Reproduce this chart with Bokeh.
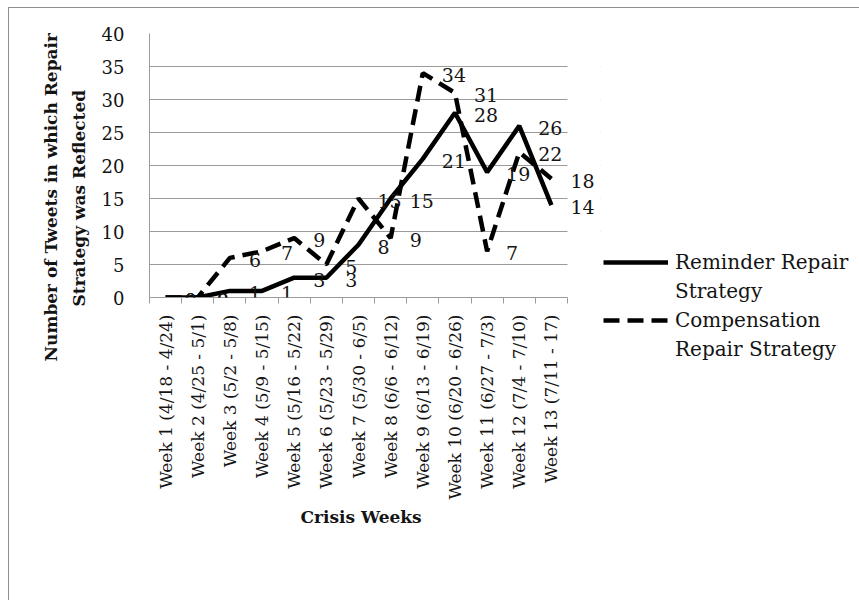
import math
from bokeh.plotting import figure
from bokeh.models import (ColumnDataSource, LabelSet, Legend, LegendItem,
                          FixedTicker, BoxAnnotation, Title)
from bokeh.embed import file_html
from bokeh.resources import INLINE
from bokeh.core.properties import value

weeks = ["Week 1 (4/18 - 4/24)", "Week 2 (4/25 - 5/1)", "Week 3 (5/2 - 5/8)",
         "Week 4 (5/9 - 5/15)", "Week 5 (5/16 - 5/22)", "Week 6 (5/23 - 5/29)",
         "Week 7 (5/30 - 6/5)", "Week 8 (6/6 - 6/12)", "Week 9 (6/13 - 6/19)",
         "Week 10 (6/20 - 6/26)", "Week 11 (6/27 - 7/3)", "Week 12 (7/4 - 7/10)",
         "Week 13 (7/11 - 17)"]
reminder = [0, 0, 1, 1, 3, 3, 8, 15, 21, 28, 19, 26, 14]
compensation = [0, 0, 6, 7, 9, 5, 15, 9, 34, 31, 7, 22, 18]
y_ticks = [0, 5, 10, 15, 20, 25, 30, 35, 40]
series_name_lines = [["Reminder Repair", "Strategy"], ["Compensation", "Repair Strategy"]]
y_title_lines = ["Number of Tweets in which Repair", "Strategy was Reflected"]
x_title = "Crisis Weeks"

FONT = "DejaVu Serif"
TXT = "#141414"
GRID = "#9b9b9b"
H = 592

n = len(weeks)
xs = list(range(1, n + 1))
src = ColumnDataSource(dict(x=xs, rem=reminder, comp=compensation,
                            rem_t=[str(v) for v in reminder],
                            comp_t=[str(v) for v in compensation]))

plot_w = 418
frame_w = 451
x_end = 0.5 + n * frame_w / plot_w
p = figure(frame_width=frame_w, frame_height=264,
           min_border_left=140, min_border_right=0,
           min_border_top=25, min_border_bottom=H - 25 - 264,
           x_range=(0.5, x_end), y_range=(0, 40),
           output_backend="svg", toolbar_location=None,
           margin=(7, 0, 0, 8),
           styles={"border-left": "1px solid #8e8e8e",
                   "border-top": "1px solid #8e8e8e"})
p.outline_line_color = None

xa = p.xaxis[0]
xa.bounds = (0.5, n + 0.5)
xa.ticker = FixedTicker(ticks=xs, minor_ticks=[i + 0.5 for i in range(0, n + 1)])
xa.major_label_overrides = {x: w for x, w in zip(xs, weeks)}
xa.major_label_orientation = math.pi / 2
xa.major_tick_line_color = None
xa.minor_tick_line_color = GRID
xa.minor_tick_out = 6
xa.minor_tick_in = 0
xa.axis_line_color = GRID
xa.major_label_text_font = FONT
xa.major_label_text_font_size = "17px"
xa.major_label_text_color = TXT
xa.major_label_standoff = 11

ya = p.yaxis[0]
ya.ticker = FixedTicker(ticks=y_ticks)
ya.major_tick_line_color = None
ya.minor_tick_line_color = None
ya.axis_line_color = GRID
ya.major_label_text_font = FONT
ya.major_label_text_font_size = "18px"
ya.major_label_text_color = TXT
ya.major_label_standoff = 19

p.xgrid.grid_line_color = None
p.ygrid.grid_line_color = GRID
p.ygrid.grid_line_width = 1

# white mask: plot area ends at the last category boundary
p.add_layout(BoxAnnotation(left=n + 0.5, fill_color="white", fill_alpha=1,
                           line_color=None, level="underlay"))

r1 = p.line("x", "rem", source=src, line_color="black", line_width=4.5)
r2 = p.line("x", "comp", source=src, line_color="black", line_width=4.5,
            line_dash="16 8")
# glyph-less legend rows for the second line of each series name
blank1 = p.line(x=[], y=[], line_alpha=0)
blank2 = p.line(x=[], y=[], line_alpha=0)

for col in ["rem", "comp"]:
    p.add_layout(LabelSet(x="x", y=col, text=col + "_t", source=src, x_offset=19,
                          y_offset=-2, text_font=value(FONT), text_font_size="19px",
                          text_color=TXT, text_align="left", text_baseline="middle"))

# axis titles
tkw = dict(text_font=FONT, text_font_style="bold", text_font_size="17px",
           text_color=TXT, align="left")
p.add_layout(Title(text=y_title_lines[1], offset=-9, standoff=16,
                   vertical_align="top", **tkw), "left")
p.add_layout(Title(text=y_title_lines[0], offset=-64, standoff=0,
                   vertical_align="bottom", **tkw), "left")
p.add_layout(Title(text=x_title, offset=151, standoff=4, **tkw), "below")

legend = Legend(items=[LegendItem(label=series_name_lines[0][0], renderers=[r1]),
                       LegendItem(label=series_name_lines[0][1], renderers=[blank1]),
                       LegendItem(label=series_name_lines[1][0], renderers=[r2]),
                       LegendItem(label=series_name_lines[1][1], renderers=[blank2])],
                location=(3, -64), orientation="vertical")
legend.label_text_font = FONT
legend.label_text_font_size = "20px"
legend.label_text_color = TXT
legend.glyph_width = 65
legend.glyph_height = 24
legend.label_height = 24
legend.label_standoff = 7
legend.spacing = 5
legend.padding = 0
legend.margin = 0
legend.border_line_color = None
legend.background_fill_color = None
p.add_layout(legend, "right")

open("out.html", "w").write(file_html(p, INLINE))
